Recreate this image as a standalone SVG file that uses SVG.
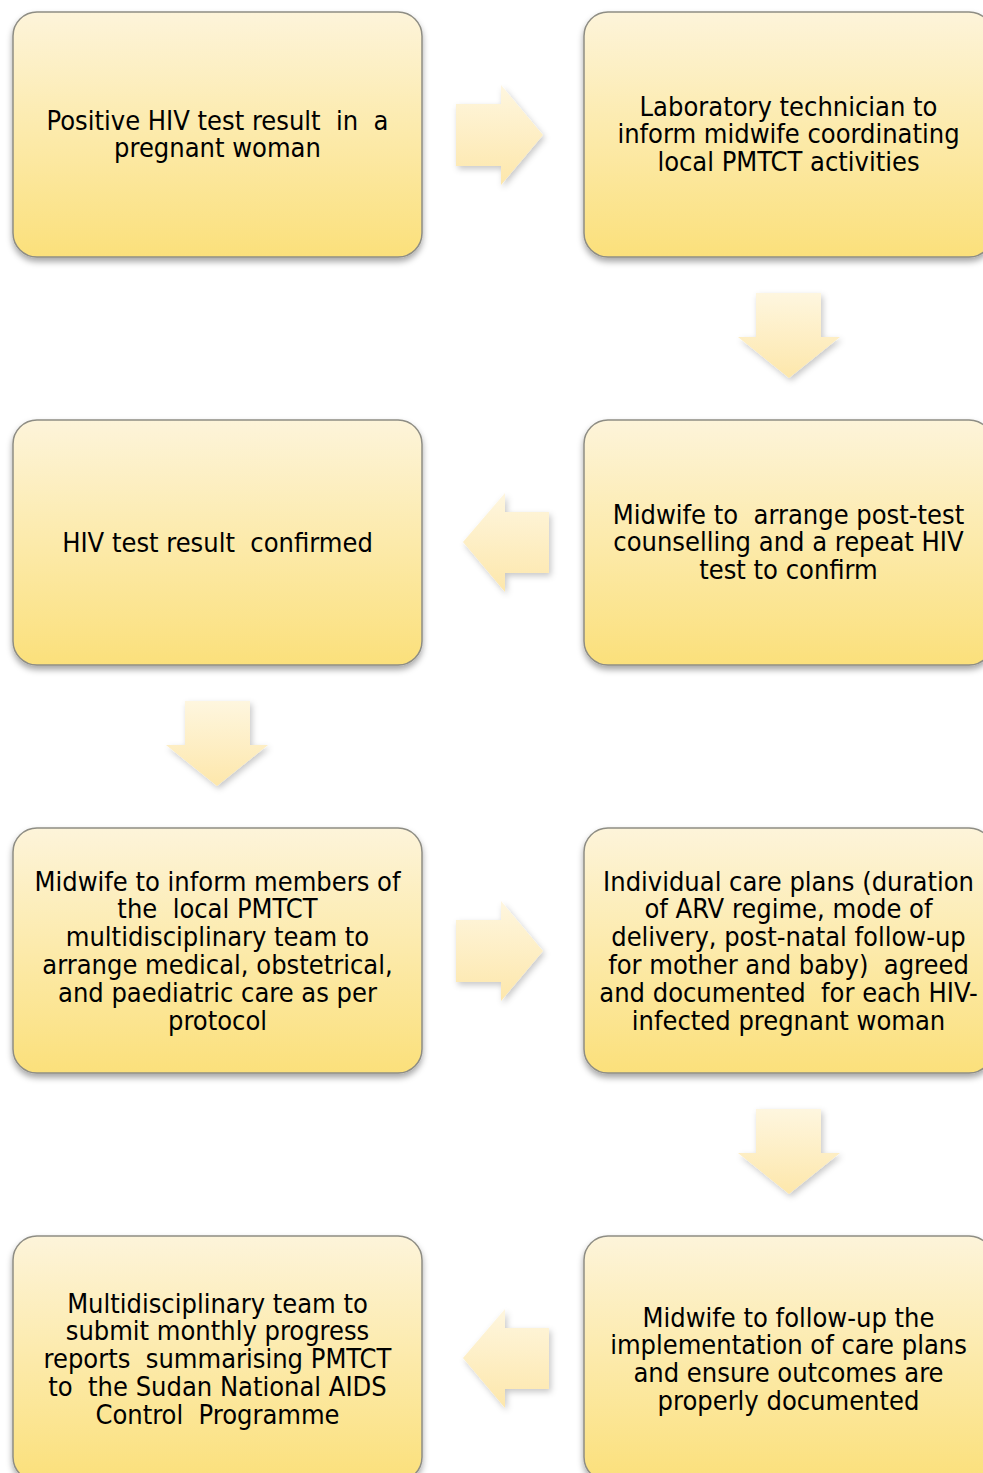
<svg xmlns="http://www.w3.org/2000/svg" width="983" height="1473" viewBox="0 0 983 1473" xml:space="preserve">
<defs>
<linearGradient id="boxFill" x1="0" y1="0" x2="0" y2="1">
<stop offset="0" stop-color="#fdf4da"/>
<stop offset="1" stop-color="#fbe07b"/>
</linearGradient>
<linearGradient id="arrFillV" x1="0" y1="0" x2="0" y2="1">
<stop offset="0" stop-color="#fef6df"/>
<stop offset="1" stop-color="#fde7ab"/>
</linearGradient>
<filter id="boxShadow" x="-10%" y="-10%" width="120%" height="125%">
<feDropShadow dx="0" dy="4" stdDeviation="3" flood-color="#000" flood-opacity="0.35"/>
</filter>
<filter id="arrShadow" x="-20%" y="-20%" width="150%" height="150%">
<feDropShadow dx="2" dy="3" stdDeviation="3" flood-color="#000" flood-opacity="0.22"/>
</filter>
</defs>
<style>
.box{fill:url(#boxFill);stroke:#8e8d84;stroke-width:1.5;filter:url(#boxShadow)}
.arr{fill:url(#arrFillV);stroke:none;filter:url(#arrShadow)}
.t{font-family:"DejaVu Sans Condensed","Liberation Sans",Arial,sans-serif;font-stretch:condensed;font-size:27px;fill:#000;text-anchor:middle;white-space:pre}
</style>
<rect width="983" height="1473" fill="#ffffff"/>

<g id="connectors">
<polygon class="arr" points="456,104 501,104 501,85 543,135 501,185 501,166 456,166"/>
<polygon class="arr" points="756,293 821,293 821,337 840,337 789,378 738,337 756,337"/>
<polygon class="arr" points="549,512 505,512 505,493 463,542 505,592 505,573 549,573"/>
<polygon class="arr" points="185,701 250,701 250,745 268,745 217,786 166,745 185,745"/>
<polygon class="arr" points="456,920 501,920 501,901 543,951 501,1001 501,982 456,982"/>
<polygon class="arr" points="756,1109 821,1109 821,1153 840,1153 789,1194 738,1153 756,1153"/>
<polygon class="arr" points="549,1328 505,1328 505,1309 463,1358 505,1408 505,1389 549,1389"/>
</g>

<g id="node1">
<rect class="box" x="13" y="12" width="409" height="245" rx="24" ry="24"/>
<text class="t" x="217.5" y="129.5">Positive HIV test result  in  a</text>
<text class="t" x="217.5" y="157.3">pregnant woman</text>
</g>

<g id="node2">
<rect class="box" x="584" y="12" width="409" height="245" rx="24" ry="24"/>
<text class="t" x="788.5" y="115.5">Laboratory technician to</text>
<text class="t" x="788.5" y="143.3">inform midwife coordinating</text>
<text class="t" x="788.5" y="171.1">local PMTCT activities</text>
</g>

<g id="node3">
<rect class="box" x="584" y="420" width="409" height="245" rx="24" ry="24"/>
<text class="t" x="788.5" y="523.5">Midwife to  arrange post-test</text>
<text class="t" x="788.5" y="551.3">counselling and a repeat HIV</text>
<text class="t" x="788.5" y="579.1">test to confirm</text>
</g>

<g id="node4">
<rect class="box" x="13" y="420" width="409" height="245" rx="24" ry="24"/>
<text class="t" x="217.5" y="551.5">HIV test result  confirmed</text>
</g>

<g id="node5">
<rect class="box" x="13" y="828" width="409" height="245" rx="24" ry="24"/>
<text class="t" x="217.5" y="890.5">Midwife to inform members of</text>
<text class="t" x="217.5" y="918.3">the  local PMTCT</text>
<text class="t" x="217.5" y="946.1">multidisciplinary team to</text>
<text class="t" x="217.5" y="973.9">arrange medical, obstetrical,</text>
<text class="t" x="217.5" y="1001.7">and paediatric care as per</text>
<text class="t" x="217.5" y="1029.5">protocol</text>
</g>

<g id="node6">
<rect class="box" x="584" y="828" width="409" height="245" rx="24" ry="24"/>
<text class="t" x="788.5" y="890.5">Individual care plans (duration</text>
<text class="t" x="788.5" y="918.3">of ARV regime, mode of</text>
<text class="t" x="788.5" y="946.1">delivery, post-natal follow-up</text>
<text class="t" x="788.5" y="973.9">for mother and baby)  agreed</text>
<text class="t" x="788.5" y="1001.7">and documented  for each HIV-</text>
<text class="t" x="788.5" y="1029.5">infected pregnant woman</text>
</g>

<g id="node7">
<rect class="box" x="584" y="1236" width="409" height="245" rx="24" ry="24"/>
<text class="t" x="788.5" y="1326.5">Midwife to follow-up the</text>
<text class="t" x="788.5" y="1354.3">implementation of care plans</text>
<text class="t" x="788.5" y="1382.1">and ensure outcomes are</text>
<text class="t" x="788.5" y="1409.9">properly documented</text>
</g>

<g id="node8">
<rect class="box" x="13" y="1236" width="409" height="245" rx="24" ry="24"/>
<text class="t" x="217.5" y="1312.5">Multidisciplinary team to</text>
<text class="t" x="217.5" y="1340.3">submit monthly progress</text>
<text class="t" x="217.5" y="1368.1">reports  summarising PMTCT</text>
<text class="t" x="217.5" y="1395.9">to  the Sudan National AIDS</text>
<text class="t" x="217.5" y="1423.7">Control  Programme</text>
</g>
</svg>
